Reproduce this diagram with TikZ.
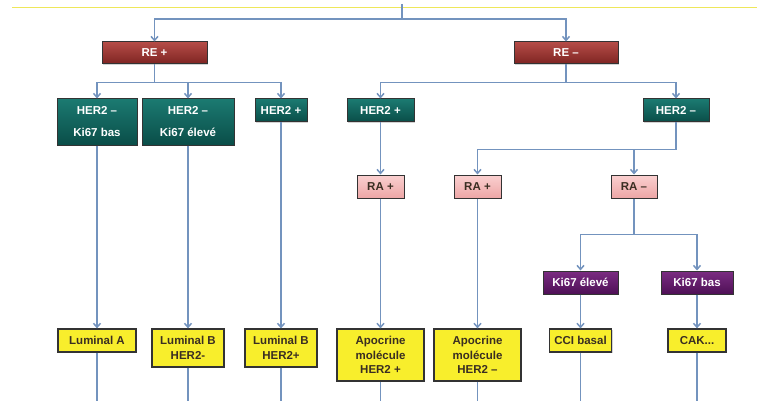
\documentclass[tikz,border=0pt]{standalone}
\usepackage{fontspec}
\setmainfont{Liberation Sans}
\usetikzlibrary{arrows.meta,shadows}
\definecolor{linec}{HTML}{7393BE}
\definecolor{redtop}{HTML}{B54C47}
\definecolor{redbot}{HTML}{7E2422}
\definecolor{tealtop}{HTML}{1B7A71}
\definecolor{tealbot}{HTML}{0A4D48}
\definecolor{pinktop}{HTML}{FAD0D0}
\definecolor{pinkbot}{HTML}{EDA6A6}
\definecolor{purptop}{HTML}{7B2C82}
\definecolor{purpbot}{HTML}{4E1056}
\definecolor{yel}{HTML}{F8EE2C}
\definecolor{dtext}{HTML}{3A2E22}
\definecolor{topline}{HTML}{EEE75A}
\tikzset{
  box/.style={draw=black!80, line width=1pt, inner sep=0pt, align=center,
    drop shadow={shadow xshift=1.2pt, shadow yshift=-1.2pt, opacity=0.35}},
  rebox/.style={box, top color=redtop, bottom color=redbot, text=white,
    font=\fontsize{11.5}{13}\selectfont\bfseries, minimum height=22pt},
  tealbox/.style={box, top color=tealtop, bottom color=tealbot, text=white,
    font=\fontsize{11.5}{22}\selectfont\bfseries, minimum height=23pt},
  pinkbox/.style={box, top color=pinktop, bottom color=pinkbot, text=dtext,
    font=\fontsize{11.5}{13}\selectfont\bfseries, minimum height=23pt, minimum width=47pt},
  purpbox/.style={box, top color=purptop, bottom color=purpbot, text=white,
    font=\fontsize{11.5}{13}\selectfont\bfseries, minimum height=23pt},
  yelbox/.style={box, fill=yel, text=dtext, line width=1.2pt,
    font=\fontsize{11.5}{14.5}\selectfont\bfseries, minimum height=23pt},
  conn/.style={draw=linec, line width=1.5pt},
  arr/.style={conn, -{Straight Barb[length=4pt,width=7pt]}}
}
\begin{document}
\begin{tikzpicture}[x=1pt,y=-1pt]
\useasboundingbox (0,0) rectangle (757,401);
% faint top rule
\coordinate (tl) at (12,7);
\coordinate (tr) at (757,7);
\draw[topline, line width=0.8pt] (tl) -- (tr);
\coordinate (top) at (402,4);

% level 1
\node[rebox, minimum width=105pt] (rep) at (154.5,53) {RE +};
\node[rebox, minimum width=104pt] (rem) at (566,53) {RE –};

% level 2
\node[tealbox, minimum width=80pt, minimum height=46pt] (h1) at (97,122) {HER2 –\\Ki67 bas};
\node[tealbox, minimum width=92pt, minimum height=46pt] (h2) at (188,122) {HER2 –\\Ki67 élevé};
\node[tealbox, minimum width=52pt] (h3) at (281,110.5) {HER2 +};
\node[tealbox, minimum width=67pt] (h4) at (380.5,110.5) {HER2 +};
\node[tealbox, minimum width=66pt] (h5) at (676,110.5) {HER2 –};

% level 3
\node[pinkbox] (ra1) at (380.5,186.5) {RA +};
\node[pinkbox] (ra2) at (477.5,186.5) {RA +};
\node[pinkbox, minimum width=46pt] (ra3) at (634,186.5) {RA –};

% level 4
\node[purpbox, minimum width=75pt] (k1) at (580.5,282.5) {Ki67 élevé};
\node[purpbox, minimum width=72pt] (k2) at (697,282.5) {Ki67 bas};

% leaves
\node[yelbox, minimum width=78pt] (y1) at (97,340.5) {Luminal A};
\node[yelbox, minimum width=72pt, minimum height=38pt] (y2) at (188,348) {Luminal B\\HER2-};
\node[yelbox, minimum width=72pt, minimum height=38pt] (y3) at (281,348) {Luminal B\\HER2+};
\node[yelbox, minimum width=87pt, minimum height=52pt] (y4) at (380.5,355) {Apocrine\\molécule\\HER2 +};
\node[yelbox, minimum width=87pt, minimum height=52pt] (y5) at (477.5,355) {Apocrine\\molécule\\HER2 –};
\node[yelbox, minimum width=62pt] (y6) at (580.5,340.5) {CCI basal};
\node[yelbox, minimum width=58pt] (y7) at (697,340.5) {CAK...};

% bottom ends
\coordinate (b1) at (97,401);
\coordinate (b2) at (188,401);
\coordinate (b3) at (281,401);
\coordinate (b4) at (380.5,401);
\coordinate (b5) at (477.5,401);
\coordinate (b6) at (580.5,401);
\coordinate (b7) at (697,401);

% connectors
\draw[conn] (top) -- ++(0,15) coordinate (bus0);
\draw[arr] (bus0) -| (rep.north);
\draw[arr] (bus0) -| (rem.north);

\draw[conn] (rep.south) -- ++(0,18) coordinate (bus1);
\draw[arr] (bus1) -| (h1.north);
\draw[arr] (bus1) -| (h2.north);
\draw[arr] (bus1) -| (h3.north);

\draw[conn] (rem.south) -- ++(0,18) coordinate (bus2);
\draw[arr] (bus2) -| (h4.north);
\draw[arr] (bus2) -| (h5.north);

\draw[arr] (h4.south) -- (ra1.north);
\draw[conn] (h5.south) -- ++(0,27) coordinate (bus3);
\draw[arr] (bus3) -| (ra2.north);
\draw[arr] (bus3) -| (ra3.north);

\draw[conn] (ra3.south) -- ++(0,36) coordinate (bus4);
\draw[arr] (bus4) -| (k1.north);
\draw[arr] (bus4) -| (k2.north);

\draw[arr] (h1.south) -- (y1.north);
\draw[arr] (h2.south) -- (y2.north);
\draw[arr] (h3.south) -- (y3.north);
\draw[arr] (ra1.south) -- (y4.north);
\draw[arr] (ra2.south) -- (y5.north);
\draw[arr] (k1.south) -- (y6.north);
\draw[arr] (k2.south) -- (y7.north);

\draw[conn] (y1.south) -- (b1);
\draw[conn] (y2.south) -- (b2);
\draw[conn] (y3.south) -- (b3);
\draw[conn] (y4.south) -- (b4);
\draw[conn] (y5.south) -- (b5);
\draw[conn] (y6.south) -- (b6);
\draw[conn] (y7.south) -- (b7);
\end{tikzpicture}
\end{document}
